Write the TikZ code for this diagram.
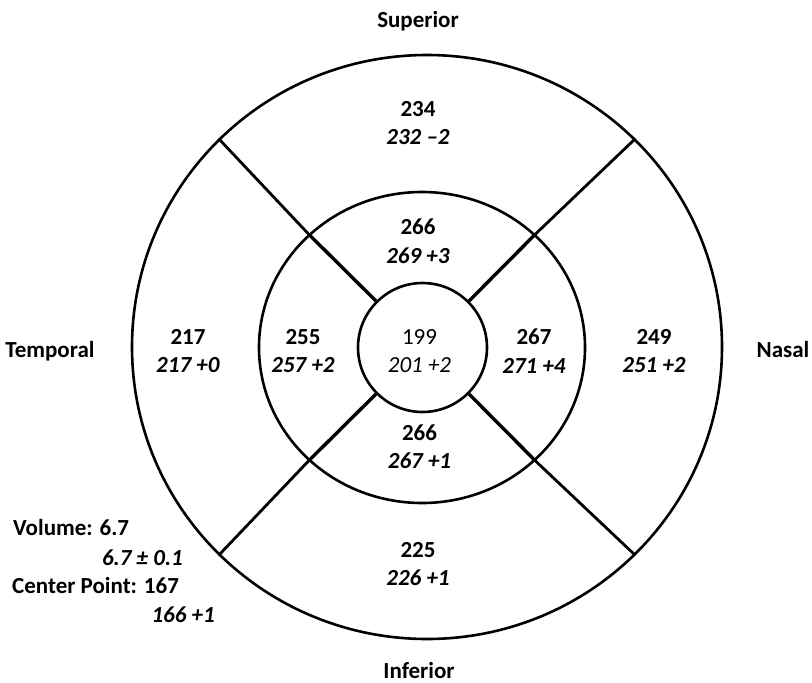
\documentclass[tikz,border=0pt]{standalone}
\usepackage{fontspec}
\setmainfont{Carlito}
\usetikzlibrary{shapes.geometric}

\begin{document}
\begin{tikzpicture}[x=1pt, y=-1pt,
    ring/.style={draw, ellipse, line width=2.6pt, inner sep=0pt},
    spoke/.style={line width=2.8pt},
    val/.style={align=center, inner sep=0pt, font=\fontsize{23}{28.5}\selectfont\bfseries},
    side/.style={inner sep=0pt, font=\fontsize{23}{28.5}\selectfont\bfseries}]
  \useasboundingbox (0,0) rectangle (812,683);

  % Rings
  \node[ring, minimum width=590pt, minimum height=584pt] (outer) at (427,347) {};
  \node[ring, minimum width=326pt, minimum height=311pt] (middle) at (422,347.5) {};
  \node[ring, minimum width=129pt, minimum height=129pt] (inner) at (422.5,347.5) {};

  % Spokes
  \foreach \a in {45,135,225,315} {
    \draw[spoke, line width=3.4pt] (inner.\a) -- (middle.\a);
    \draw[spoke] (middle.\a) -- (outer.\a);
  }

  % Sector values
  \node[val] (supOut) at (418,123) {234\\\textit{232 –2}};
  \node[val] (supIn) at (418,241) {266\\\textit{269 +3}};
  \node[val] (tmpOut) at (188,351) {217\\\textit{217 +0}};
  \node[val] (tmpIn) at (303,351) {255\\\textit{257 +2}};
  \node[val, font=\fontsize{23}{28.5}\selectfont\mdseries] (ctr) at (419.5,351) {199\\\textit{201 +2}};
  \node[val] (nasIn) at (534,351) {267\\\textit{271 +4}};
  \node[val] (nasOut) at (654,351) {249\\\textit{251 +2}};
  \node[val] (infIn) at (419.5,446.5) {266\\\textit{267 +1}};
  \node[val] (infOut) at (418,564) {225\\\textit{226 +1}};

  % Directions
  \node[side, anchor=base] (superior) at (418,27) {Superior};
  \node[side, anchor=base] (inferior) at (419,678) {Inferior};
  \node[side, anchor=base] (temporal) at (50,357) {Temporal};
  \node[side, anchor=base] (nasal) at (783,357) {Nasal};

  % Volume and center point
  \node[side, anchor=base west] (vol) at (13,535) {Volume: 6.7};
  \node[side, anchor=base east] (volRef) at (183,565) {\textit{6.7 ± 0.1}};
  \node[side, anchor=base west] (cp) at (12,593) {Center Point: 167};
  \node[side, anchor=base east] (cpRef) at (215,622) {\textit{166 +1}};
\end{tikzpicture}
\end{document}
